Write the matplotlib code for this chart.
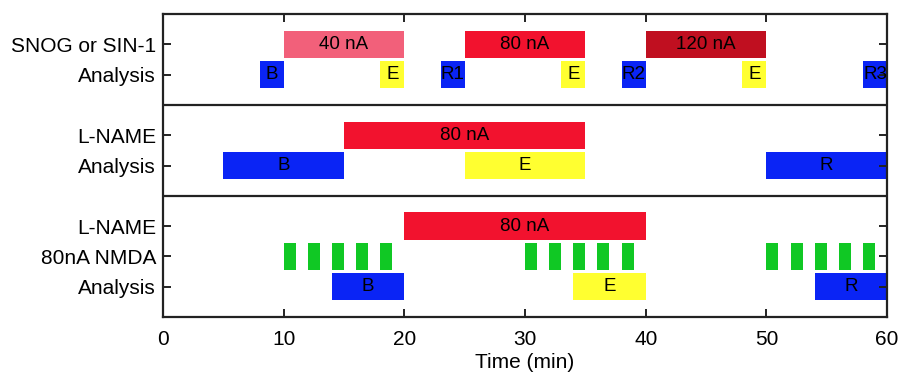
import numpy as np
import matplotlib.pyplot as plt

plt.rcParams['font.family'] = ['Liberation Sans', 'DejaVu Sans']
plt.rcParams['font.size'] = 15

blue = '#0a24f5'
yellow = '#ffff30'
green = '#10c824'
red = '#f2122e'
pink = '#f2607a'
darkred = '#c00f20'

# row labels, bottom to top
row_names = ['Analysis', '80nA NMDA', 'L-NAME', 'Analysis', 'L-NAME', 'Analysis', 'SNOG or SIN-1']
row_y = [1, 2, 3, 5, 6, 8, 9]

# top panel
snog_start = [10, 25, 40]
snog_end = [20, 35, 50]
snog_text = ['40 nA', '80 nA', '120 nA']
snog_color = [pink, red, darkred]

ana1_start = [8, 18, 23, 33, 38, 48, 58]
ana1_end = [10, 20, 25, 35, 40, 50, 60]
ana1_text = ['B', 'E', 'R1', 'E', 'R2', 'E', 'R3']
ana1_color = [blue, yellow, blue, yellow, blue, yellow, blue]

# middle panel
lname2_start = [15]
lname2_end = [35]
lname2_text = ['80 nA']

ana2_start = [5, 25, 50]
ana2_end = [15, 35, 60]
ana2_text = ['B', 'E', 'R']
ana2_color = [blue, yellow, blue]

# bottom panel
lname3_start = [20]
lname3_end = [40]
lname3_text = ['80 nA']

nmda_start = [10, 12, 14, 16, 18, 30, 32, 34, 36, 38, 50, 52, 54, 56, 58]
nmda_len = 1

ana3_start = [14, 34, 54]
ana3_end = [20, 40, 60]
ana3_text = ['B', 'E', 'R']
ana3_color = [blue, yellow, blue]

fig = plt.figure(figsize=(9, 3.73), dpi=100)
ax = fig.add_axes([0.1811, 0.1501, 0.8045, 0.8124])

h = 0.9


def draw_row(y, starts, ends, texts, colors):
    starts = np.array(starts)
    ends = np.array(ends)
    ax.barh(y, ends - starts, left=starts, height=h, color=colors, edgecolor='none')
    if texts is None:
        return
    for s, e, t in zip(starts, ends, texts):
        ax.text((s + e) / 2, y, t, ha='center', va='center', fontsize=13.5)


draw_row(9, snog_start, snog_end, snog_text, snog_color)
draw_row(8, ana1_start, ana1_end, ana1_text, ana1_color)
draw_row(6, lname2_start, lname2_end, lname2_text, [red])
draw_row(5, ana2_start, ana2_end, ana2_text, ana2_color)
draw_row(3, lname3_start, lname3_end, lname3_text, [red])
nmda_start = np.array(nmda_start)
draw_row(2, nmda_start, nmda_start + nmda_len, None, green)
draw_row(1, ana3_start, ana3_end, ana3_text, ana3_color)

# panel separators
for yy in [4, 7]:
    ax.axhline(yy, color='#222222', lw=1.6)

ax.set_xlim(0, 60)
ax.set_ylim(0, 10)
ax.set_xticks(np.arange(0, 61, 10))
ax.set_yticks(row_y)
ax.set_yticklabels(row_names)
ax.set_xlabel('Time (min)', labelpad=3)
ax.tick_params(direction='in', length=6, width=1.4, top=True, right=True, color='#222222')
ax.tick_params(axis='x', pad=9)
ax.tick_params(axis='y', pad=5)
for sp in ax.spines.values():
    sp.set_linewidth(1.6)
    sp.set_color('#222222')

fig.savefig('out.png', dpi=100)
